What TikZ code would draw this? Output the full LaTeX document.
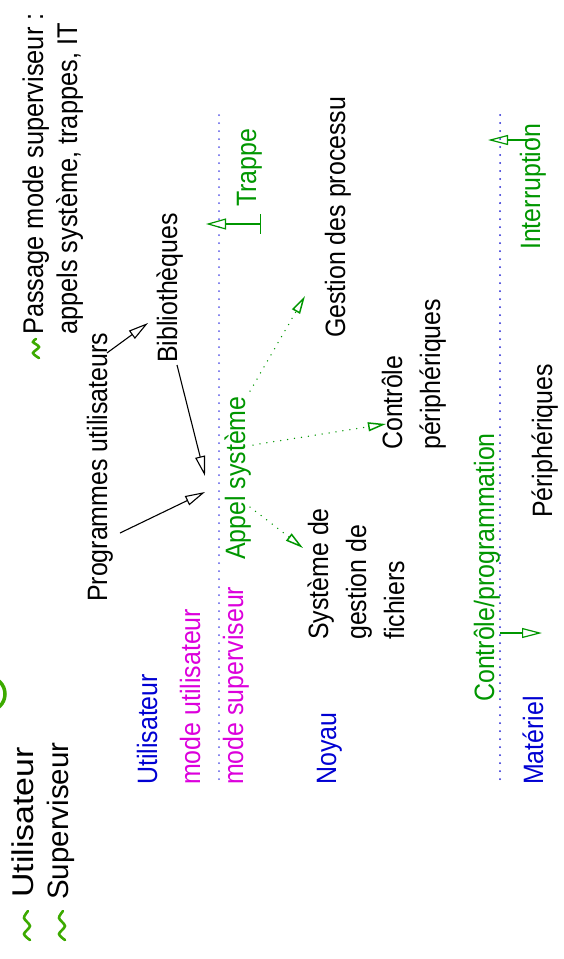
\documentclass[tikz,border=0pt]{standalone}
\usepackage{fontspec}
\setmainfont{Liberation Sans}
\newfontfamily\lblfont{Liberation Sans}[FakeStretch=0.89]
\usetikzlibrary{arrows.meta}
\definecolor{lgreen}{RGB}{0,150,0}
\definecolor{lime}{RGB}{60,170,0}
\definecolor{mag}{RGB}{220,0,220}
\definecolor{tblue}{RGB}{0,0,210}
\definecolor{sepA}{RGB}{90,90,230}
\definecolor{sepB}{RGB}{30,30,210}
\tikzset{
  lbl/.style={rotate=90, anchor=base west, inner sep=0pt, font=\lblfont\fontsize{28}{34}\selectfont},
  big/.style={rotate=90, anchor=base west, inner sep=0pt, font=\fontsize{30}{36}\selectfont},
  head/.style={rotate=90, anchor=base west, inner sep=0pt, font=\lblfont\fontsize{28.5}{34}\selectfont},
  blk/.style={draw=black, line width=1.1pt, -{Triangle[open,length=20pt,width=10pt]}},
  gdot/.style={draw=lgreen, line width=1.5pt, line cap=round, dash pattern=on 0pt off 7pt, -{Triangle[open,length=18pt,width=9pt]}},
  garr/.style={draw=lgreen, line width=1.2pt, -{Triangle[open,length=20pt,width=10pt]}},
  sepline/.style={line width=2pt, line cap=round, dash pattern=on 0pt off 8pt},
  squig/.style={draw=lime, line width=2.6pt, line cap=round},
}
\begin{document}
\begin{tikzpicture}[x=1pt,y=-1pt]
\useasboundingbox (0,0) rectangle (563,959);
% partial green circle at left edge
\draw[lime, line width=3.5pt] (-12,694) circle (17);
% bullets
\draw[squig] plot[smooth] coordinates {(30,940) (24,934) (30,926) (24,918) (28,911)};
\draw[squig] plot[smooth] coordinates {(65,940) (59,934) (65,926) (59,918) (63,911)};
\draw[squig] plot[smooth] coordinates {(39,358) (33,353) (39,347) (33,342) (36,339)};
% top texts
\node[big] (util1) at (33,898) {\scalebox{1.13}[1]{Utilisateur}};
\node[big, font=\fontsize{29.5}{36}\selectfont] (super1) at (68,900) {Superviseur};
\node[head] (pass1) at (43,335) {Passage mode superviseur :};
\node[head] (pass2) at (77,335) {appels système, trappes, IT};
% separators
\draw[sepline, sepA] (219,115) -- (219,785);
\draw[sepline, sepB] (500,115) -- (500,785);
% labels
\node[lbl] (progs) at (107,602) {Programmes utilisateurs};
\node[lbl] (biblio) at (177,363) {Bibliothèques};
\node[lbl] (gest) at (345,338) {Gestion des processu};
\node[lbl, text=lgreen] (appel) at (245,560) {Appel système};
\node[lbl, text=lgreen] (trappe) at (256,207) {Trappe};
\node[lbl, text=lgreen] (interr) at (540,250) {Interruption};
\node[lbl] (sgf1) at (328,640) {Système de};
\node[lbl] (sgf2) at (366,640) {gestion de};
\node[lbl] (sgf3) at (404,640) {fichiers};
\node[lbl] (ctrl1) at (402,450) {Contrôle};
\node[lbl] (ctrl2) at (440,450) {périphériques};
\node[lbl] (periph) at (552,518) {Périphériques};
\node[lbl, text=tblue] (util2) at (157,785) {Utilisateur};
\node[lbl, text=mag] (modeu) at (200,785) {mode utilisateur};
\node[lbl, text=mag] (modes) at (243,785) {mode superviseur};
\node[lbl, text=tblue] (noyau) at (336,785) {Noyau};
\node[lbl, text=lgreen] (ctlprog) at (494,702) {Contrôle/programmation};
\node[lbl, text=tblue] (mater) at (543,785) {Matériel};
% free ends
\coordinate (call1) at (205,476);
\coordinate (call2) at (205,492);
\coordinate (trapTip) at (206,224);
\coordinate (intTip) at (488,140);
\coordinate (hwTip) at (542,633);
% black arrows
\draw[blk] ([yshift=-20pt]progs.base east) -- ([shift={(-29pt,40pt)}]biblio.base west);
\draw[blk] ([yshift=-2pt]biblio.base west) -- (call1);
\draw[blk] ([shift={(13pt,69pt)}]progs.base west) -- (call2);
% green dotted arrows from Appel systeme
\draw[gdot] ([shift={(5pt,5pt)}]appel.base east) -- ([shift={(-40pt,42pt)}]gest.base west);
\draw[gdot] ([shift={(8pt,115pt)}]appel.base west) -- ([shift={(-16pt,26pt)}]ctrl1.base west);
\draw[gdot] ([shift={(5pt,53pt)}]appel.base west) -- ([shift={(-25pt,92pt)}]sgf1.base west);
% green solid arrows
\draw[garr, {Bar[width=20pt]}-{Triangle[open,length=20pt,width=11pt]}] ([shift={(5pt,-17pt)}]trappe.base west) -- (trapTip);
\draw[garr] ([shift={(-7pt,110pt)}]interr.base west) -- (intTip);
\draw[garr] ([shift={(6pt,69pt)}]ctlprog.base west) -- (hwTip);
\end{tikzpicture}
\end{document}
